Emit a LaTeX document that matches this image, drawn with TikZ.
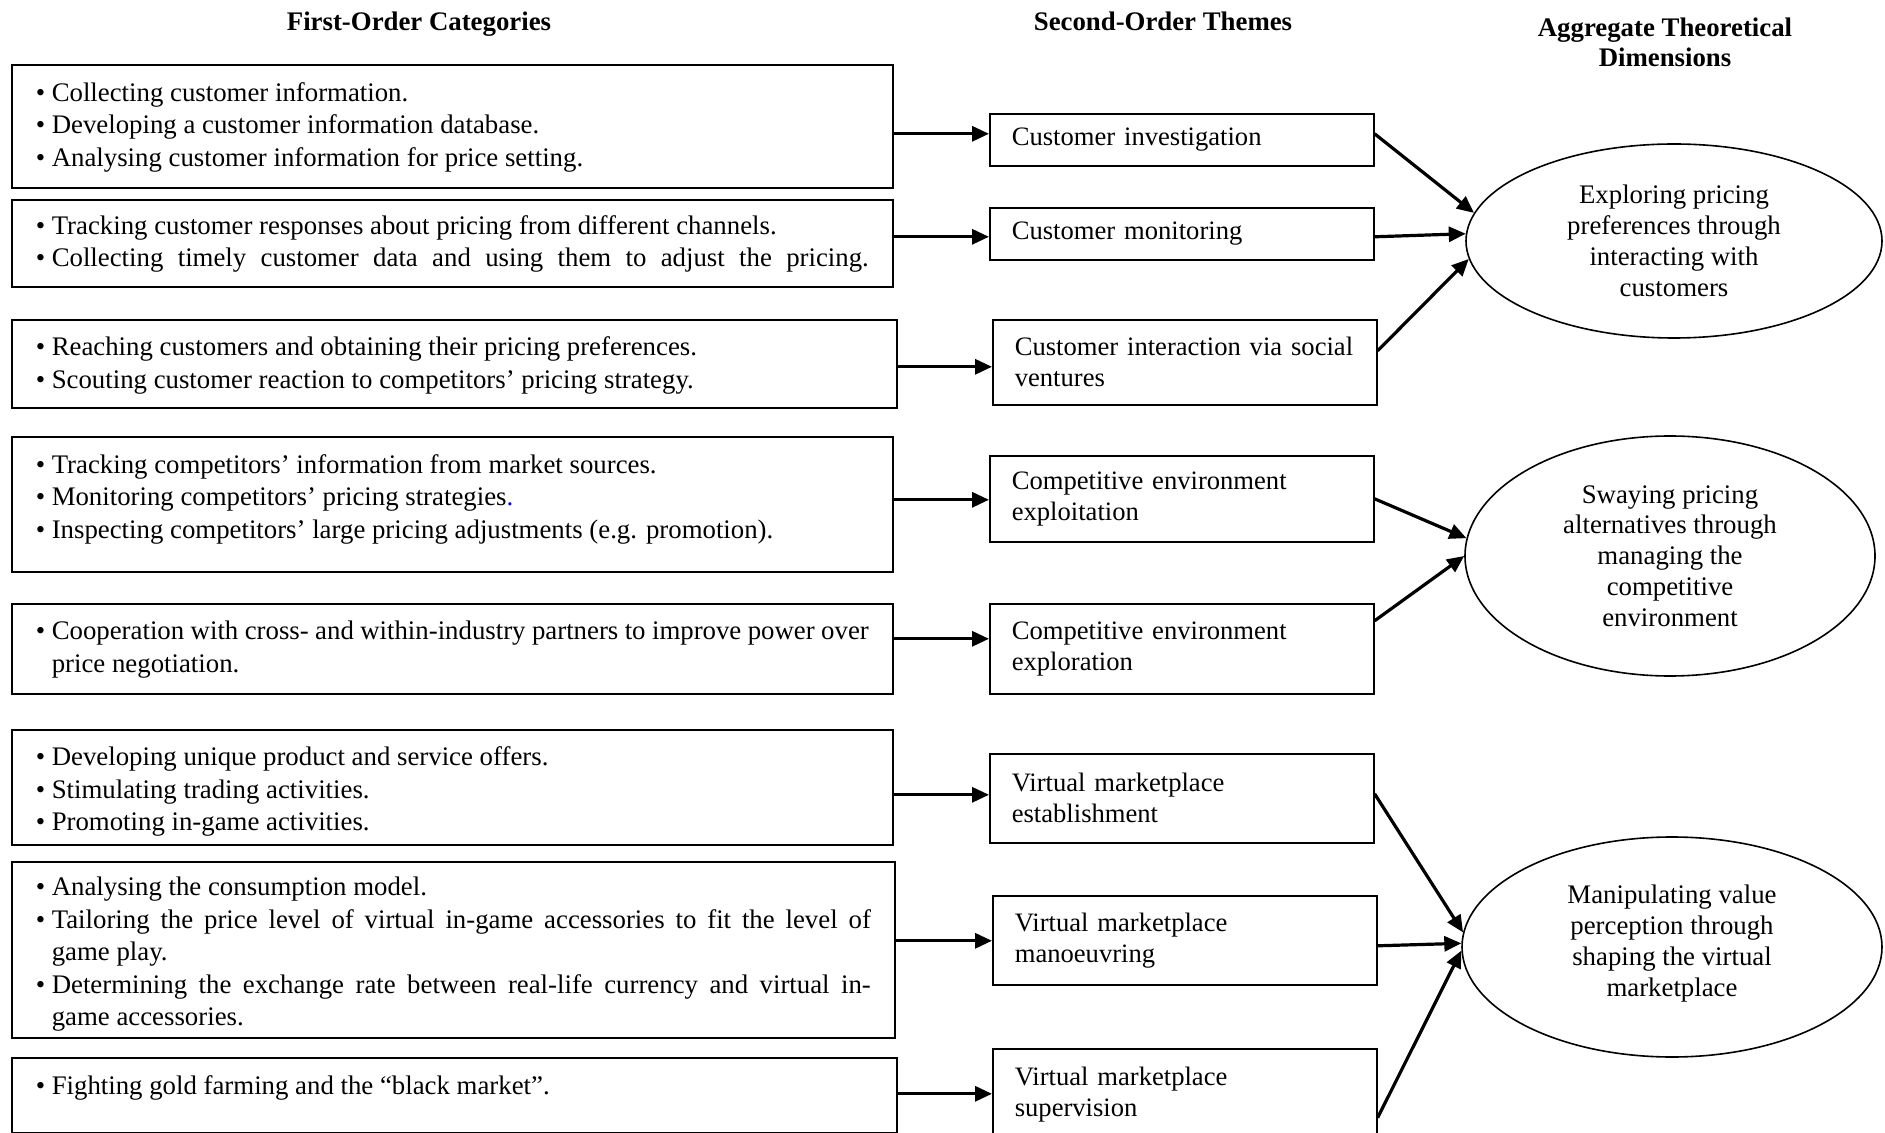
\documentclass[tikz,border=0pt]{standalone}
\usepackage{fontspec}
\setmainfont{Liberation Serif}
\usetikzlibrary{arrows.meta,shapes.geometric}
\newcommand\bitem[1]{\par\noindent\hangindent=8pt\hangafter=1\makebox[8pt][l]{\textbullet}#1\par}
\newcommand\bitemfull[1]{{\parfillskip=0pt\relax\bitem{#1}}}
\newcommand\lsetup{\tolerance=9999 \hyphenpenalty=10000 \emergencystretch=6pt\relax}
\newcommand\lift[1]{\par\kern#1\relax}
\begin{document}
\begin{tikzpicture}[x=0.5pt,y=-0.5pt,
  lbox/.style={draw, line width=0.8pt, anchor=north west, inner xsep=12pt, inner ysep=0pt,
    align=justify, font={\fontsize{13.4}{16.25}\selectfont}},
  mbox/.style={draw, line width=0.8pt, anchor=north west, inner xsep=11pt, inner ysep=0pt,
    text width=170pt, minimum width=192pt, align=left, font={\fontsize{13.3}{15.5}\selectfont}},
  ell/.style={draw, ellipse, line width=0.8pt, inner sep=0pt, align=center, font={\fontsize{13.4}{15.4}\selectfont}},
  title/.style={inner sep=0pt, align=center, font={\fontsize{13.4}{15}\selectfont\bfseries}},
  arr/.style={line width=1.6pt, -{Triangle[length=8.5pt,width=7.5pt]}}
]
\useasboundingbox (0,0) rectangle (1885,1133);

% titles
\node[title] (t1) at (419,24) {First-Order Categories};
\node[title] (t2) at (1163,21) {Second-Order Themes};
\node[title] (t3) at (1665,42) {Aggregate Theoretical\\Dimensions};

% first-order boxes
\node[lbox, minimum width=440.5pt, minimum height=61.5pt, text width=416.5pt] (B1) at (11,64) {\lsetup
  \bitem{Collecting customer information.}%
  \bitem{Developing a customer information database.}%
  \bitem{Analysing customer information for price setting.}\lift{6pt}};
\node[lbox, minimum width=440.5pt, minimum height=43.5pt, text width=416.5pt] (B2) at (11,199) {\lsetup
  \bitem{Tracking customer responses about pricing from different channels.}%
  \bitemfull{Collecting timely customer data and using them to adjust the pricing.}\lift{6pt}};
\node[lbox, minimum width=442.5pt, minimum height=44pt, text width=418.5pt] (B3) at (11,319) {\lsetup
  \bitem{Reaching customers and obtaining their pricing preferences.}%
  \bitem{Scouting customer reaction to competitors’ pricing strategy.}\lift{5pt}};
\node[lbox, minimum width=440.5pt, minimum height=67.5pt, text width=416.5pt] (B4) at (11,436) {\lsetup
  \bitem{Tracking competitors’ information from market sources.}%
  \bitem{Monitoring competitors’ pricing strategies\textcolor{blue}{.}}%
  \bitem{Inspecting competitors’ large pricing adjustments (e.g. promotion).}\lift{12pt}};
\node[lbox, minimum width=440.5pt, minimum height=45pt, text width=416.5pt] (B5) at (11,603) {\lsetup
  \bitem{Cooperation with cross- and within-industry partners to improve power over\linebreak price negotiation.}\lift{6pt}};
\node[lbox, minimum width=440.5pt, minimum height=57.5pt, text width=416.5pt] (B6) at (11,729) {\lsetup
  \bitem{Developing unique product and service offers.}%
  \bitem{Stimulating trading activities.}%
  \bitem{Promoting in-game activities.}\lift{2.4pt}};
\node[lbox, minimum width=441.5pt, minimum height=88pt, text width=417.5pt] (B7) at (11,861) {\lsetup
  \bitem{Analysing the consumption model.}%
  \bitem{Tailoring the price level of virtual in-game accessories to fit the level of\linebreak game play.}%
  \bitem{Determining the exchange rate between real-life currency and virtual in-\linebreak game accessories.}\lift{2.4pt}};
\node[lbox, minimum width=442.5pt, minimum height=37.5pt, text width=418.5pt] (B8) at (11,1057) {\lsetup
  \bitem{Fighting gold farming and the “black market”.}\lift{14.4pt}};

% second-order boxes
\node[mbox, minimum height=26pt] (M1) at (989,113) {Customer investigation};
\node[mbox, minimum height=26pt] (M2) at (989,207) {Customer monitoring};
\node[mbox, minimum height=42.5pt] (M3) at (992,319) {Customer interaction via social\\ventures};
\node[mbox, minimum height=43pt] (M4) at (989,455) {Competitive environment\\exploitation};
\node[mbox, minimum height=45pt] (M5) at (989,603) {Competitive environment\\exploration};
\node[mbox, minimum height=44.5pt] (M6) at (989,753) {Virtual marketplace\\establishment};
\node[mbox, minimum height=44.5pt] (M7) at (992,895) {Virtual marketplace\\manoeuvring};
\node[mbox, minimum height=46pt] (M8) at (992,1048) {Virtual marketplace\\supervision};

% aggregate dimensions
\node[ell, minimum width=208pt, minimum height=97pt] (E1) at (1674,241)
  {Exploring pricing\\preferences through\\interacting with\\customers};
\node[ell, minimum width=205pt, minimum height=120pt] (E2) at (1670,556)
  {Swaying pricing\\alternatives through\\managing the\\competitive\\environment};
\node[ell, minimum width=210pt, minimum height=110pt] (E3) at (1672,947)
  {Manipulating value\\perception through\\shaping the virtual\\marketplace\\[-9pt]};

% entry points of second-order boxes
\coordinate (m1in) at ([yshift=3pt]M1.west);
\coordinate (m2in) at ([yshift=-1.5pt]M2.west);
\coordinate (m3in) at ([yshift=-2.25pt]M3.west);
\coordinate (m4in) at ([yshift=-0.5pt]M4.west);
\coordinate (m5in) at ([yshift=5pt]M5.west);
\coordinate (m6in) at ([yshift=1.75pt]M6.west);
\coordinate (m7in) at ([yshift=-0.25pt]M7.west);
\coordinate (m8in) at ([yshift=0.5pt]M8.west);

\draw[arr] (B1.east |- m1in) -- (m1in);
\draw[arr] (B2.east |- m2in) -- (m2in);
\draw[arr] (B3.east |- m3in) -- (m3in);
\draw[arr] (B4.east |- m4in) -- (m4in);
\draw[arr] (B5.east |- m5in) -- (m5in);
\draw[arr] (B6.east |- m6in) -- (m6in);
\draw[arr] (B7.east |- m7in) -- (m7in);
\draw[arr] (B8.east |- m8in) -- (m8in);

% second-order to aggregate
\draw[arr] ([yshift=3pt]M1.east) -- (E1.172);
\draw[arr] ([yshift=-1.5pt]M2.east) -- (E1.178.6);
\draw[arr] ([yshift=5.75pt]M3.east) -- (E1.185.3);
\draw[arr] (M4.east) -- (E2.175.5);
\draw[arr] ([yshift=14pt]M5.east) -- (E2.180.8);
\draw[arr] ([yshift=2.25pt]M6.east) -- (E3.176.2);
\draw[arr] ([yshift=-2.75pt]M7.east) -- (E3.179.5);
\draw[arr] ([yshift=-11.5pt]M8.east) -- (E3.181.6);
\end{tikzpicture}
\end{document}
